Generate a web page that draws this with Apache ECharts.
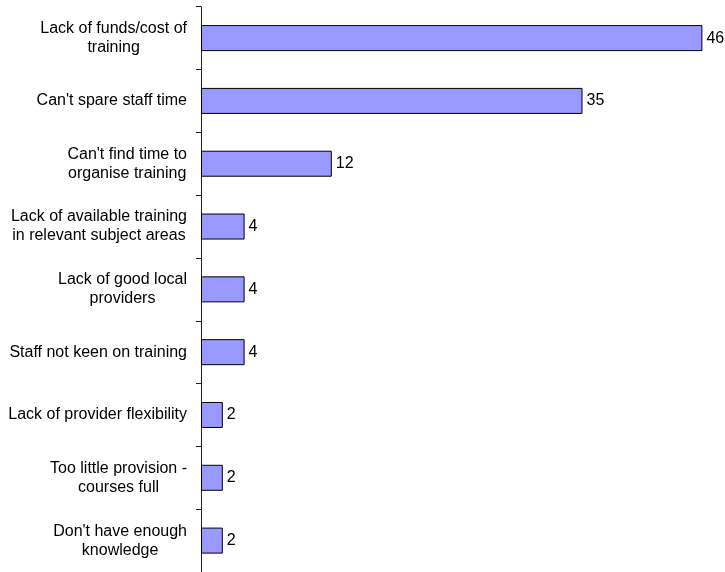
<!DOCTYPE html>
<html>
<head>
<meta charset="utf-8">
<script src="https://cdn.jsdelivr.net/npm/echarts@6/dist/echarts.min.js"></script>
<style>
  html, body { margin: 0; padding: 0; background: #ffffff; }
  #chart { width: 725px; height: 572px; }
</style>
</head>
<body>
<div id="chart"></div>
<script>
// Reasons given as barriers to training (top to bottom)
const categories = [
  "Lack of funds/cost of\ntraining",
  "Can't spare staff time",
  "Can't find time to\norganise training",
  "Lack of available training\nin relevant subject areas",
  "Lack of good local\nproviders",
  "Staff not keen on training",
  "Lack of provider flexibility",
  "Too little provision -\ncourses full",
  "Don't have enough\nknowledge"
];
const values = [46, 35, 12, 4, 4, 4, 2, 2, 2];

const FONT = "'Liberation Sans', Arial, sans-serif";
const chart = echarts.init(document.getElementById('chart'));

chart.setOption({
  animation: false,
  backgroundColor: '#ffffff',
  grid: { left: 201, top: 6.7, width: 523.2, height: 572.4, containLabel: false },
  xAxis: {
    type: 'value',
    min: 0,
    max: 48,
    show: false
  },
  yAxis: {
    type: 'category',
    data: categories,
    inverse: true,
    axisLine: { show: true, lineStyle: { color: '#222222', width: 1 } },
    axisTick: { show: true, length: 5, lineStyle: { color: '#222222', width: 1 } },
    axisLabel: {
      margin: 14,
      color: '#000000',
      fontFamily: FONT,
      fontSize: 16,
      lineHeight: 19,
      align: 'right',
      formatter: function (v) {
        return v.split('\n').map(function (l) { return '{c|' + l + '}'; }).join('\n');
      },
      rich: {
        c: { align: 'center', fontFamily: FONT, fontSize: 16, lineHeight: 19, color: '#000000' }
      }
    },
    splitLine: { show: false }
  },
  series: [{
    type: 'bar',
    data: values,
    barWidth: 26,
    itemStyle: { color: '#9999FF', borderColor: '#000000', borderWidth: 1 },
    label: {
      show: true,
      position: 'right',
      distance: 4,
      color: '#000000',
      fontFamily: FONT,
      fontSize: 16
    }
  }]
});
</script>
</body>
</html>
